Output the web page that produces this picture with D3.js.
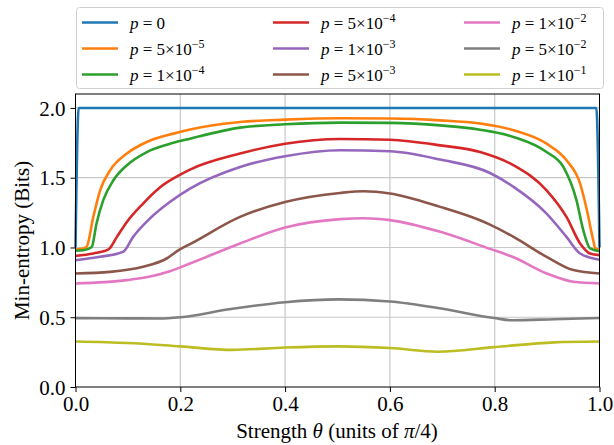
<!DOCTYPE html>
<html>
<head>
<meta charset="utf-8">
<script src="https://cdn.jsdelivr.net/npm/d3@7"></script>
<style>
  body { margin: 0; background: #fff; }
</style>
</head>
<body>
<div id="chart"></div>
<script>
const FONT = "'Liberation Serif', 'DejaVu Serif', serif";

// legend labels: [mantissa, exponent] ("" mantissa means p = 0)
const labels = [["", "0"], ["5", "−5"], ["1", "−4"], ["5", "−4"], ["1", "−3"], ["5", "−3"], ["1", "−2"], ["5", "−2"], ["1", "−1"]];
const colors = ["#1f77b4", "#ff7f0e", "#2ca02c", "#d62728", "#9467bd", "#8c564b", "#e377c2", "#7f7f7f", "#bcbd22"];

const xTicks = [0, 0.2, 0.4, 0.6, 0.8, 1.0];
const yTicks = [0, 0.5, 1.0, 1.5, 2.0];

// [theta, min-entropy]
const p0 = [[0, 1.0], [0.006, 2.0], [0.994, 2.0], [1, 1.0]];
const p5e5 = [[0, 0.986], [0.012, 0.99], [0.021, 1.004], [0.034, 1.219], [0.047, 1.41], [0.066, 1.553], [0.098, 1.673],
  [0.136, 1.756], [0.187, 1.816], [0.2185, 1.845], [0.314, 1.899], [0.4, 1.916], [0.505, 1.926], [0.6, 1.924],
  [0.696, 1.911], [0.772, 1.888], [0.836, 1.84], [0.899, 1.744], [0.937, 1.625], [0.963, 1.458], [0.976, 1.267],
  [0.988, 1.052], [0.992, 0.993], [1, 0.986]];
const p1e4 = [[0, 0.976], [0.015, 0.98], [0.031, 1.004], [0.04, 1.17], [0.053, 1.339], [0.072, 1.48], [0.098, 1.589],
  [0.136, 1.684], [0.187, 1.75], [0.2185, 1.78], [0.314, 1.859], [0.4, 1.883], [0.505, 1.895], [0.6, 1.893],
  [0.696, 1.875], [0.772, 1.844], [0.836, 1.792], [0.899, 1.684], [0.931, 1.577], [0.956, 1.339], [0.969, 1.124],
  [0.982, 0.993], [1, 0.973]];
const p5e4 = [[0, 0.94], [0.034, 0.957], [0.063, 0.986], [0.079, 1.076], [0.098, 1.183], [0.129, 1.315], [0.161, 1.43],
  [0.199, 1.52], [0.2185, 1.558], [0.314, 1.673], [0.4, 1.744], [0.505, 1.778], [0.6, 1.772], [0.696, 1.732],
  [0.772, 1.684], [0.836, 1.589], [0.899, 1.41], [0.937, 1.219], [0.963, 1.029], [0.982, 0.957], [1, 0.945]];
const p1e3 = [[0, 0.909], [0.047, 0.933], [0.091, 0.969], [0.11, 1.076], [0.142, 1.208], [0.18, 1.326], [0.2185, 1.422],
  [0.314, 1.577], [0.4, 1.654], [0.505, 1.697], [0.6, 1.69], [0.696, 1.63], [0.791, 1.534], [0.836, 1.434],
  [0.899, 1.243], [0.937, 1.076], [0.963, 0.957], [1, 0.912]];
const p5e3 = [[0, 0.814], [0.066, 0.825], [0.129, 0.861], [0.174, 0.921], [0.199, 0.986], [0.2185, 1.024], [0.314, 1.219],
  [0.4, 1.326], [0.505, 1.391], [0.55, 1.403], [0.6, 1.387], [0.696, 1.291], [0.772, 1.195], [0.791, 1.164],
  [0.836, 1.076], [0.899, 0.933], [0.95, 0.838], [1, 0.814]];
const p1e2 = [[0, 0.742], [0.098, 0.766], [0.14, 0.79], [0.18, 0.83], [0.2185, 0.885], [0.314, 1.029], [0.4, 1.143],
  [0.505, 1.203], [0.55, 1.21], [0.6, 1.196], [0.696, 1.112], [0.791, 0.99], [0.836, 0.93], [0.899, 0.814],
  [0.95, 0.754], [1, 0.742]];
const p5e2 = [[0, 0.494], [0.1, 0.492], [0.16, 0.491], [0.2, 0.5], [0.293, 0.557], [0.4, 0.608], [0.502, 0.628],
  [0.6, 0.613], [0.698, 0.562], [0.799, 0.494], [0.833, 0.478], [0.914, 0.486], [1, 0.494]];
const p1e1 = [[0, 0.326], [0.1, 0.315], [0.2, 0.291], [0.3, 0.266], [0.4, 0.283], [0.502, 0.291], [0.6, 0.279],
  [0.691, 0.253], [0.799, 0.286], [0.914, 0.32], [1, 0.326]];

const series = [p0, p5e5, p1e4, p5e4, p1e3, p5e3, p1e2, p5e2, p1e1];

const W = 614, H = 445;
const plot = { left: 75.5, right: 599.5, top: 94, bottom: 387 };

const svg = d3.select("#chart").append("svg")
  .attr("width", W)
  .attr("height", H)
  .style("font-family", FONT);

const x = d3.scaleLinear().domain([0, 1]).range([plot.left, plot.right]);
const y = d3.scaleLinear().domain([0, 2.1]).range([plot.bottom, plot.top]);

// grid
svg.append("g").selectAll("line").data(xTicks.slice(1, -1)).join("line")
  .attr("x1", d => x(d)).attr("x2", d => x(d))
  .attr("y1", plot.top).attr("y2", plot.bottom)
  .attr("stroke", "#c8c8c8").attr("stroke-width", 1.2);
svg.append("g").selectAll("line").data(yTicks.slice(1)).join("line")
  .attr("x1", plot.left).attr("x2", plot.right)
  .attr("y1", d => y(d)).attr("y2", d => y(d))
  .attr("stroke", "#c8c8c8").attr("stroke-width", 1.2);

svg.append("clipPath").attr("id", "clip").append("rect")
  .attr("x", plot.left - 2).attr("y", plot.top)
  .attr("width", plot.right - plot.left + 4).attr("height", plot.bottom - plot.top);

const line = d3.line()
  .x(d => x(d[0]))
  .y(d => y(d[1]))
  .curve(d3.curveMonotoneX);

svg.append("g").attr("clip-path", "url(#clip)")
  .selectAll("path").data(series).join("path")
  .attr("d", line)
  .attr("fill", "none")
  .attr("stroke", (d, i) => colors[i])
  .attr("stroke-width", 2.6)
  .attr("stroke-linejoin", "round");

// axes
const xAxis = svg.append("g")
  .attr("transform", `translate(0,${plot.bottom})`)
  .call(d3.axisBottom(x).tickValues(xTicks).tickFormat(d3.format(".1f")).tickSize(5).tickPadding(4));
const yAxis = svg.append("g")
  .attr("transform", `translate(${plot.left},0)`)
  .call(d3.axisLeft(y).tickValues(yTicks).tickFormat(d3.format(".1f")).tickSize(5).tickPadding(5));
[xAxis, yAxis].forEach(a => {
  a.attr("font-family", null);
  a.select(".domain").remove();
  a.selectAll("line").attr("stroke", "#000").attr("stroke-width", 1);
  a.selectAll("text").style("font-family", FONT).style("font-size", "21px").attr("fill", "#000");
});
yAxis.selectAll("text").attr("dy", "0.34em");

// frame
svg.append("rect")
  .attr("x", plot.left).attr("y", plot.top)
  .attr("width", plot.right - plot.left).attr("height", plot.bottom - plot.top)
  .attr("fill", "none").attr("stroke", "#000").attr("stroke-width", 1);

// axis titles
const xt = svg.append("text")
  .attr("x", 337).attr("y", 438)
  .attr("text-anchor", "middle").style("font-family", FONT).style("font-size", "21px");
xt.append("tspan").text("Strength ");
xt.append("tspan").style("font-style", "italic").text("θ");
xt.append("tspan").text(" (units of ");
xt.append("tspan").style("font-style", "italic").text("π");
xt.append("tspan").text("/4)");

svg.append("text")
  .attr("transform", `translate(29,${(plot.top + plot.bottom) / 2}) rotate(-90)`)
  .attr("text-anchor", "middle").style("font-family", FONT).style("font-size", "21px")
  .text("Min-entropy (Bits)");

// legend
const legend = svg.append("g");
legend.append("rect")
  .attr("x", 76.5).attr("y", 7.5).attr("width", 527).attr("height", 81)
  .attr("rx", 3).attr("fill", "#fff").attr("stroke", "#d0d0d0").attr("stroke-width", 1);
const colX = [82, 273, 464];
const rowY = [22.5, 48.5, 74.5];
labels.forEach((lab, i) => {
  const cx = colX[Math.floor(i / 3)];
  const cy = rowY[i % 3];
  legend.append("line")
    .attr("x1", cx).attr("x2", cx + 36).attr("y1", cy).attr("y2", cy)
    .attr("stroke", colors[i]).attr("stroke-width", 2.6);
  const t = legend.append("text").attr("x", cx + 48).attr("y", cy + 6)
    .style("font-family", FONT).style("font-size", "17px");
  t.append("tspan").style("font-style", "italic").text("p");
  if (lab[0] === "") {
    t.append("tspan").text(" = 0");
  } else {
    t.append("tspan").text(" = " + lab[0] + "×10");
    t.append("tspan").attr("dy", -7).style("font-size", "12px").text(lab[1]);
  }
});
</script>
</body>
</html>
